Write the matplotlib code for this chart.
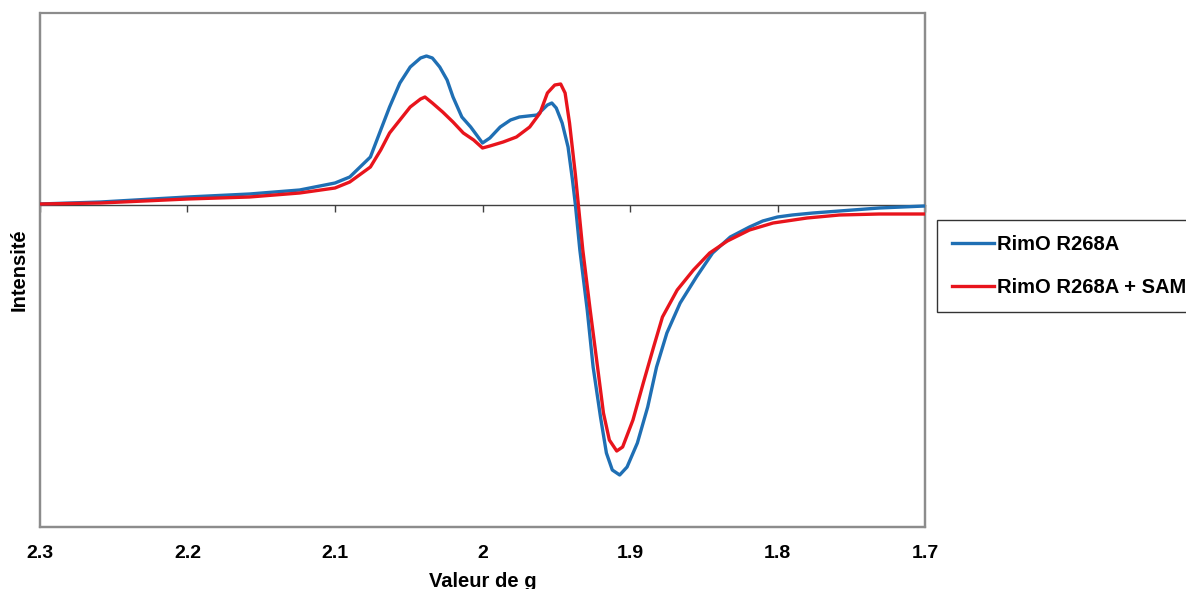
import matplotlib
matplotlib.use("Agg")
import matplotlib.pyplot as plt

# g values and intensities (arbitrary units)
g_blue = [2.300, 2.259, 2.200, 2.158, 2.124, 2.100, 2.090, 2.076, 2.069, 2.063,
          2.056, 2.049, 2.042, 2.038, 2.034, 2.029, 2.024, 2.020, 2.014, 2.008,
          2.004, 2.000, 1.995, 1.988, 1.981, 1.975, 1.963, 1.956, 1.953, 1.950,
          1.946, 1.942, 1.939, 1.937, 1.934, 1.929, 1.925, 1.920, 1.916, 1.912,
          1.907, 1.902, 1.895, 1.888, 1.882, 1.875, 1.866, 1.855, 1.844, 1.832,
          1.819, 1.810, 1.800, 1.790, 1.776, 1.758, 1.731, 1.700]
i_blue = [1, 3, 8, 11, 15, 22, 28, 48, 75, 98,
          122, 138, 147, 149, 147, 138, 125, 108, 88, 78,
          70, 62, 67, 78, 85, 88, 90, 100, 102, 97,
          82, 58, 25, 0, -45, -105, -162, -212, -248, -265,
          -270, -262, -238, -202, -162, -128, -98, -72, -48, -32,
          -22, -16, -12, -10, -8, -6, -3, -1]

g_red = [2.300, 2.259, 2.200, 2.158, 2.124, 2.100, 2.090, 2.076, 2.069, 2.063,
         2.056, 2.049, 2.042, 2.039, 2.034, 2.027, 2.020, 2.013, 2.006, 2.000,
         1.995, 1.986, 1.977, 1.968, 1.961, 1.956, 1.951, 1.947, 1.944, 1.941,
         1.937, 1.935, 1.932, 1.927, 1.922, 1.918, 1.914, 1.909, 1.905, 1.898,
         1.891, 1.884, 1.878, 1.868, 1.857, 1.846, 1.834, 1.819, 1.803, 1.780,
         1.758, 1.731, 1.700]
i_red = [1, 2, 6, 8, 12, 17, 23, 38, 55, 72,
         85, 98, 106, 108, 102, 93, 83, 72, 65, 57,
         59, 63, 68, 78, 92, 112, 120, 121, 112, 82,
         30, 0, -45, -105, -162, -208, -235, -246, -242, -215,
         -178, -142, -112, -85, -65, -48, -36, -25, -18, -13,
         -10, -9, -9]

labels = ["RimO R268A", "RimO R268A + SAM"]
xticks = [2.3, 2.2, 2.1, 2.0, 1.9, 1.8, 1.7]
xticklabels = ["2.3", "2.2", "2.1", "2", "1.9", "1.8", "1.7"]

plt.rcParams['font.family'] = ['Liberation Sans', 'DejaVu Sans']
plt.rcParams['font.weight'] = 'bold'

fig = plt.figure(figsize=(11.86, 5.89), dpi=100)
ax = fig.add_axes([40/1186, 62/589, 885/1186, 514/589])

ax.plot(g_blue, i_blue, color='#1f6fb4', lw=2.4, label=labels[0], zorder=3,
        solid_joinstyle='round')
ax.plot(g_red, i_red, color='#e8141c', lw=2.4, label=labels[1], zorder=4,
        solid_joinstyle='round')

ax.set_xlim(2.3, 1.7)
ax.set_ylim(-322, 192)
ax.set_yticks([])

# frame via the axes patch, top spine used as the zero line
ax.patch.set_edgecolor('#8c8c8c')
ax.patch.set_linewidth(1.6)
for s in ['left', 'right', 'bottom']:
    ax.spines[s].set_color('#8c8c8c')
    ax.spines[s].set_linewidth(1.6)
ax.spines['top'].set_position(('data', 0))
ax.spines['top'].set_color('#404040')
ax.spines['top'].set_linewidth(1.0)
ax.spines['top'].set_zorder(2)

ax.set_xticks(xticks)
ax.set_xticklabels(xticklabels, fontsize=14, fontweight='bold')
ax.tick_params(axis='x', bottom=False, top=True, labelbottom=True, labeltop=False,
               direction='in', length=5, width=1, color='#404040', pad=13)

ax.set_xlabel("Valeur de g", fontsize=14.5, fontweight='bold', labelpad=7)
ax.set_ylabel("Intensité", fontsize=14.5, fontweight='bold', labelpad=8)

leg = ax.legend(loc='upper left', bbox_to_anchor=(937/1186, 1 - 220/589),
                bbox_transform=fig.transFigure, prop={'size': 14.5, 'weight': 'bold'},
                frameon=True, fancybox=False, edgecolor='black', handlelength=2.1,
                handletextpad=0.15, labelspacing=1.2, borderpad=0.75,
                borderaxespad=0)
leg.get_frame().set_linewidth(1.0)

fig.savefig("out.png", dpi=100)
